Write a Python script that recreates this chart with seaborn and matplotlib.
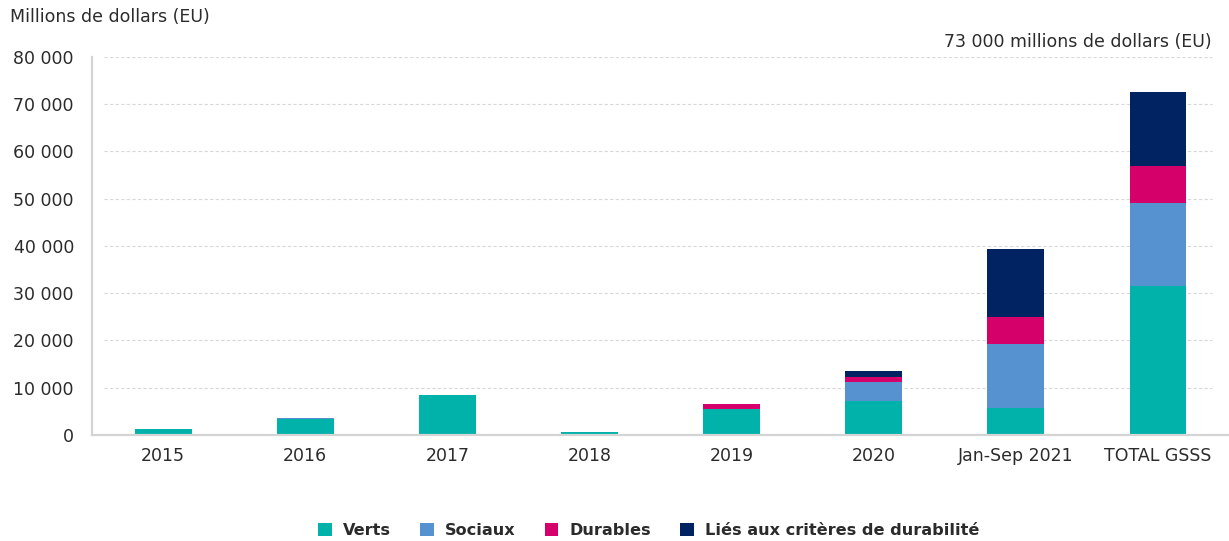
import matplotlib
matplotlib.use("Agg")
import matplotlib.pyplot as plt
from matplotlib.patches import Patch
import seaborn as sns
import numpy as np

categories = ["2015", "2016", "2017", "2018", "2019", "2020", "Jan-Sep 2021", "TOTAL GSSS"]
verts = [1200, 3400, 8500, 700, 5600, 7200, 5750, 31500]
sociaux = [0, 250, 0, 0, 0, 4000, 13400, 17500]
durables = [0, 0, 0, 0, 1050, 1100, 5900, 8000]
lies = [0, 0, 0, 0, 0, 1300, 14400, 15600]
series_names = ["Verts", "Sociaux", "Durables", "Liés aux critères de durabilité"]
colors = ["#00B2A9", "#5592CF", "#D6006A", "#012362"]
y_ticks = [0, 10000, 20000, 30000, 40000, 50000, 60000, 70000, 80000]
y_ticklabels = ["0", "10 000", "20 000", "30 000", "40 000", "50 000", "60 000", "70 000", "80 000"]

sns.set_theme(style="white")
plt.rcParams["font.family"] = ["DejaVu Sans"]

fig = plt.figure(figsize=(12.29, 5.41), dpi=100)
ax = fig.add_axes([0.0749, 0.196, 0.9251, 0.6987])

stack = np.array([verts, sociaux, durables, lies], dtype=float)
cum = np.cumsum(stack, axis=0)
for i in range(3, -1, -1):
    sns.barplot(x=categories, y=cum[i], color=colors[i], width=0.4, ax=ax,
                saturation=1, linewidth=0, order=categories)

ax.set_ylim(0, 80000)
ax.set_xlim(-0.5, 7.5)
ax.set_yticks(y_ticks)
ax.set_yticklabels(y_ticklabels)
ax.set_xlabel("")
ax.set_ylabel("")

for y in y_ticks[1:]:
    ax.axhline(y, xmin=0.0105, xmax=0.985, color="#d9d9d9", lw=0.8,
               ls=(0, (3, 2)), zorder=0)

for s in ["top", "right"]:
    ax.spines[s].set_visible(False)
for s in ["left", "bottom"]:
    ax.spines[s].set_color("#d4d4d4")
    ax.spines[s].set_linewidth(1.6)

ax.tick_params(axis="y", direction="in", length=8, width=1.2, color="#d4d4d4",
               pad=13, labelsize=12.5, labelcolor="#2b2b2b")
ax.tick_params(axis="x", which="major", length=0, pad=9, labelsize=12.5, labelcolor="#2b2b2b")
ax.set_xticks(np.arange(0.5, 7, 1), minor=True)
ax.tick_params(axis="x", which="minor", direction="in", length=9, width=1.6, color="#d4d4d4")

fig.text(0.008, 0.968, "Millions de dollars (EU)", fontsize=12.5, color="#2b2b2b",
         ha="left", va="center")
fig.text(0.986, 0.922, "73 000 millions de dollars (EU)", fontsize=12.5, color="#2b2b2b",
         ha="right", va="center")

handles = [Patch(facecolor=c, edgecolor="none") for c in colors]
leg = fig.legend(handles, series_names, loc="center", bbox_to_anchor=(0.528, 0.02),
                 ncol=4, frameon=False, handlelength=0.85, handleheight=0.85,
                 columnspacing=1.8, handletextpad=0.7,
                 prop={"size": 11.6, "weight": "bold"})
for t in leg.get_texts():
    t.set_color("#2b2b2b")

fig.savefig("out.png", dpi=100)
